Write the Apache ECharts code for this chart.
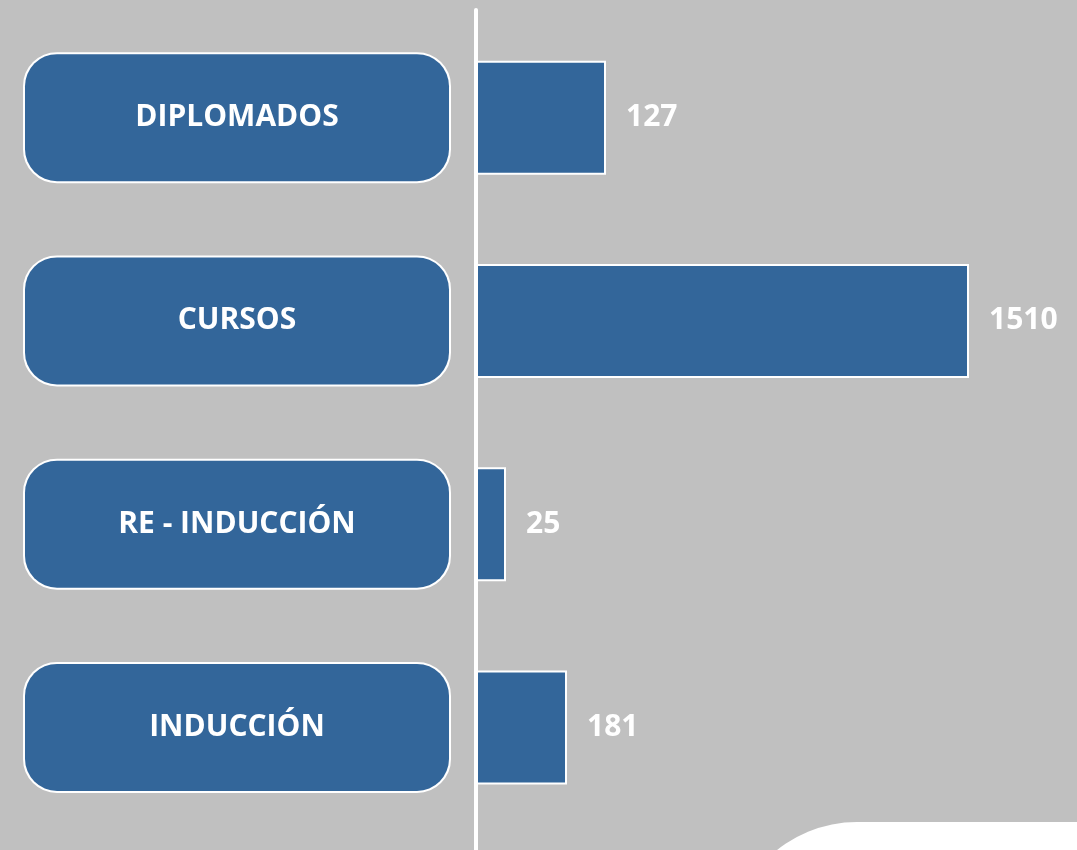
<!DOCTYPE html>
<html>
<head>
<meta charset="utf-8">
<title>Programas</title>
<script src="https://cdn.jsdelivr.net/npm/echarts@6/dist/echarts.min.js"></script>
<style>
  html, body { margin: 0; padding: 0; background: #c0c0c0; }
  #chart { width: 1077px; height: 850px; }
</style>
</head>
<body>
<div id="chart"></div>
<script>
// categorias (de arriba hacia abajo)
const categories = ['DIPLOMADOS', 'CURSOS', 'RE - INDUCCIÓN', 'INDUCCIÓN'];
// valores mostrados en las etiquetas
const values = [127, 1510, 25, 181];
// largo de las barras tal como se dibujan en la infografia (no esta a escala)
const barLength = [130, 493, 30, 91];

const blue = '#33669a';
const font = '"Open Sans", "DejaVu Sans", sans-serif';

const myChart = echarts.init(document.getElementById('chart'));
myChart.setOption({
  backgroundColor: '#c0c0c0',
  animation: false,
  grid: [
    { left: 476, right: 1, top: 16, bottom: 21 },
    // solo para la linea vertical blanca
    { left: 475.5, right: 1, top: 10, bottom: -4 }
  ],
  xAxis: [
    { type: 'value', gridIndex: 0, min: 0, max: 600, show: false },
    { type: 'value', gridIndex: 1, min: 0, max: 1, show: false }
  ],
  yAxis: [
    {
      type: 'category',
      gridIndex: 0,
      inverse: true,
      data: categories,
      axisLine: { show: false },
      axisTick: { show: false },
      axisLabel: {
        margin: 239,
        align: 'center',
        width: 424,
        height: 127,
        lineHeight: 131,
        backgroundColor: blue,
        borderColor: '#ffffff',
        borderWidth: 2,
        borderRadius: 32,
        color: '#ffffff',
        fontFamily: font,
        fontWeight: 'bold',
        fontSize: 30
      }
    },
    {
      type: 'value',
      gridIndex: 1,
      min: 0,
      max: 1,
      axisLine: { show: true, lineStyle: { color: '#ffffff', width: 4, cap: 'round' } },
      axisTick: { show: false },
      axisLabel: { show: false },
      splitLine: { show: false }
    }
  ],
  graphic: [
    {
      type: 'rect',
      z: 0,
      shape: { x: 729, y: 822, width: 500, height: 300, r: 128 },
      style: { fill: '#ffffff' }
    }
  ],
  series: [
    {
      type: 'bar',
      xAxisIndex: 0,
      yAxisIndex: 0,
      barWidth: 114,
      data: barLength,
      itemStyle: { color: blue, borderColor: '#ffffff', borderWidth: 2 },
      label: {
        show: true,
        position: 'right',
        distance: 20,
        color: '#ffffff',
        fontFamily: font,
        fontWeight: 'bold',
        fontSize: 30,
        formatter: (p) => String(values[p.dataIndex])
      }
    }
  ]
});
</script>
</body>
</html>
